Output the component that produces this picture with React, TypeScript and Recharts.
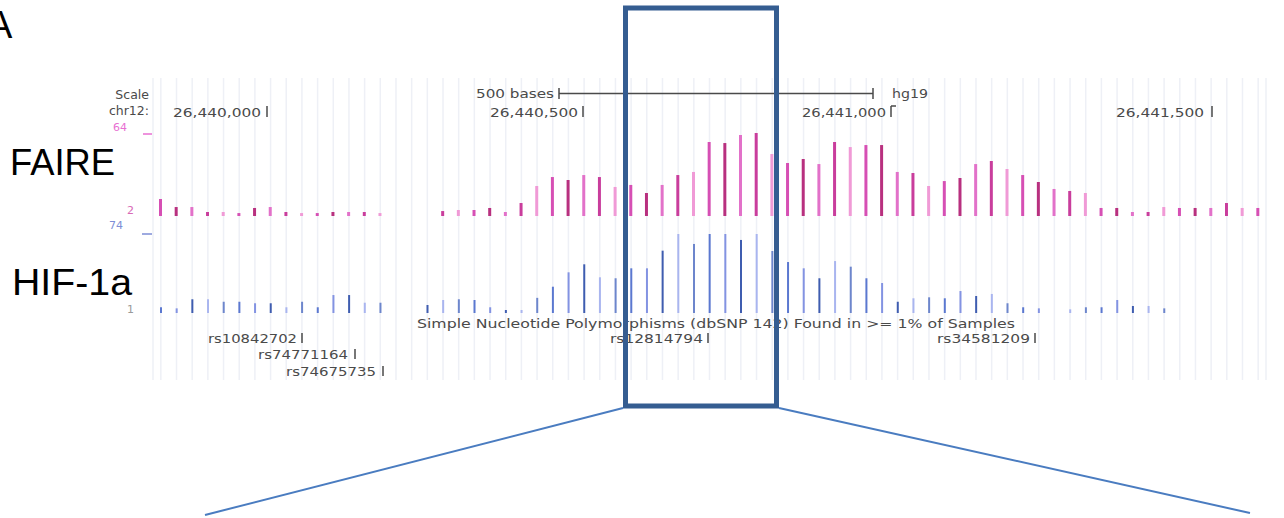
import React from 'react';
import { BarChart, Bar, XAxis, YAxis, CartesianGrid, Cell } from 'recharts';

// genomic bins (chr12, hg19), ~25 bases apart
const bins: number[] = Array.from({ length: 71 }, (_, i) => 26439830 + i * 25);

// FAIRE signal (view limits 2 - 64)
const faire: (number | null)[] = [
  14.7, 8.7, 8.7, 5.0, 5.0, 4.2, 8.0, 8.7, 5.0, 4.2,
  4.2, 5.0, 5.0, 5.0, 4.2, null, null, null, 5.7, 6.5,
  6.5, 8.0, 5.0, 11.7, 24.4, 31.1, 28.9, 32.6, 31.1, 23.7,
  25.2, 19.2, 25.2, 32.6, 34.9, 57.3, 56.5, 62.5, 64.0, 48.3,
  41.6, 44.6, 40.8, 57.3, 53.5, 55.0, 55.0, 34.9, 34.1, 24.4,
  28.1, 30.4, 40.8, 43.1, 37.1, 32.6, 27.4, 22.2, 20.7, 19.2,
  8.0, 8.0, 5.0, 5.0, 8.7, 8.0, 8.0, 8.0, 11.7, 8.0,
  8.0,
];

// HIF-1a signal (view limits 1 - 74)
const hif: (number | null)[] = [
  6.3, 5.3, 13.7, 13.7, 11.4, 11.4, 10.0, 10.0, 6.3, 11.4,
  6.3, 17.6, 17.6, 10.5, 10.5, null, null, 8.4, 13.0, 13.7,
  13.0, 6.3, 3.8, 3.8, 15.0, 25.3, 38.6, 46.0, 34.0, 33.1,
  42.3, 42.3, 58.6, 74.0, 64.8, 74.0, 74.0, 68.5, 74.0, 58.3,
  48.1, 42.3, 33.1, 49.0, 43.8, 33.1, 28.7, 11.4, 14.6, 15.5,
  14.6, 21.3, 16.7, 18.6, 10.0, 6.3, 5.3, null, 4.4, 6.3,
  6.3, 13.0, 7.5, 7.5, 5.3, null, null, null, null, null,
  null,
];

const positionTicks = ['26,440,000', '26,440,500', '26,441,000', '26,441,500'];
const snpLabels = ['rs10842702', 'rs74771164', 'rs74675735', 'rs12814794', 'rs34581209'];

const faireColors = ['#d64fb4', '#b8307f', '#e271c9', '#c93d9c', '#f09ad6'];
const hifColors = ['#5b78d0', '#8393e2', '#3f5db0', '#a9b5ef', '#6d86cc'];

const data = bins.map((pos, i) => ({ pos, faire: faire[i], hif: hif[i] }));

const W = 1284;
const PLOT_LEFT = 153;
const PLOT_RIGHT = 18;
const ucsc = '"DejaVu Sans", Verdana, sans-serif';
const big = '"Liberation Sans", Arial, sans-serif';

const abs = (left: number, top: number): React.CSSProperties => ({ position: 'absolute', left, top });

export default function App() {
  return (
    <div style={{ position: 'absolute', left: 0, top: 0, width: W, height: 518, background: '#fff', overflow: 'hidden' }}>
      {/* browser guideline stripes */}
      <div style={abs(0, 78)}>
        <BarChart width={W} height={302} data={data} margin={{ top: 0, right: PLOT_RIGHT, bottom: 0, left: PLOT_LEFT }}>
          <CartesianGrid horizontal={false} stroke="#eef0f6" strokeWidth={1.5} />
          <XAxis dataKey="pos" hide interval={0} />
          <YAxis hide domain={[0, 1]} />
          <Bar dataKey="none" isAnimationActive={false} />
        </BarChart>
      </div>

      {/* FAIRE track */}
      <div style={abs(0, 120)}>
        <BarChart width={W} height={110} data={data} barSize={3}
          margin={{ top: 13, right: PLOT_RIGHT, bottom: 14, left: PLOT_LEFT }}>
          <XAxis dataKey="pos" hide />
          <YAxis hide domain={[2, 64]} allowDataOverflow />
          <Bar dataKey="faire" isAnimationActive={false}>
            {data.map((_, i) => <Cell key={i} fill={faireColors[i % faireColors.length]} />)}
          </Bar>
        </BarChart>
      </div>

      {/* HIF-1a track */}
      <div style={abs(0, 225)}>
        <BarChart width={W} height={100} data={data} barSize={2}
          margin={{ top: 9, right: PLOT_RIGHT, bottom: 12, left: PLOT_LEFT }}>
          <XAxis dataKey="pos" hide />
          <YAxis hide domain={[1, 74]} allowDataOverflow />
          <Bar dataKey="hif" isAnimationActive={false}>
            {data.map((_, i) => <Cell key={i} fill={hifColors[i % hifColors.length]} />)}
          </Bar>
        </BarChart>
      </div>

      {/* annotations */}
      <svg width={W} height={518} style={{ position: 'absolute', left: 0, top: 0, pointerEvents: 'none' }}>
        <text x={-13} y={38} fontFamily={big} fontSize={38} fill="#000">A</text>
        <text x={10} y={175} fontFamily={big} fontSize={36} fill="#000" textLength={105} lengthAdjust="spacingAndGlyphs">FAIRE</text>
        <text x={12} y={295} fontFamily={big} fontSize={36} fill="#000" textLength={120} lengthAdjust="spacingAndGlyphs">HIF-1a</text>

        <g fontFamily={ucsc} fontSize={12.5} fill="#4a4a4a" lengthAdjust="spacingAndGlyphs">
          <text x={149} y={99} textAnchor="end">Scale</text>
          <text x={149} y={115} textAnchor="end">chr12:</text>
          <text x={476} y={98} textLength={78} lengthAdjust="spacingAndGlyphs">500 bases</text>
          <text x={892} y={98} textLength={36} lengthAdjust="spacingAndGlyphs">hg19</text>
          <text x={173} y={117} textLength={88} lengthAdjust="spacingAndGlyphs">{positionTicks[0]}</text>
          <text x={490} y={117} textLength={88} lengthAdjust="spacingAndGlyphs">{positionTicks[1]}</text>
          <text x={802} y={117} textLength={84} lengthAdjust="spacingAndGlyphs">{positionTicks[2]}</text>
          <text x={1116} y={117} textLength={88} lengthAdjust="spacingAndGlyphs">{positionTicks[3]}</text>
          <text x={417} y={328} textLength={598} lengthAdjust="spacingAndGlyphs">
            Simple Nucleotide Polymorphisms (dbSNP 142) Found in &gt;= 1% of Samples
          </text>
          <text x={208} y={343} textLength={89} lengthAdjust="spacingAndGlyphs">{snpLabels[0]}</text>
          <text x={258} y={359} textLength={90} lengthAdjust="spacingAndGlyphs">{snpLabels[1]}</text>
          <text x={286} y={376} textLength={90} lengthAdjust="spacingAndGlyphs">{snpLabels[2]}</text>
          <text x={610} y={343} textLength={93} lengthAdjust="spacingAndGlyphs">{snpLabels[3]}</text>
          <text x={937} y={343} textLength={93} lengthAdjust="spacingAndGlyphs">{snpLabels[4]}</text>
        </g>
        <g stroke="#4a4a4a" strokeWidth={1.5}>
          <line x1={559} y1={93.5} x2={873} y2={93.5} />
          <line x1={559} y1={88} x2={559} y2={99} />
          <line x1={873} y1={88} x2={873} y2={99} />
          <line x1={267} y1={106} x2={267} y2={117} />
          <line x1={583} y1={106} x2={583} y2={117} />
          <line x1={891} y1={106} x2={891} y2={117} />
          <line x1={891} y1={106} x2={896} y2={106} />
          <line x1={1212} y1={106} x2={1212} y2={117} />
          <line x1={302} y1={333} x2={302} y2={343} />
          <line x1={355} y1={349} x2={355} y2={359} />
          <line x1={383} y1={366} x2={383} y2={376} />
          <line x1={708} y1={333} x2={708} y2={343} />
          <line x1={1035} y1={333} x2={1035} y2={343} />
        </g>

        <g fontFamily={ucsc} fontSize={11}>
          <text x={127} y={131} textAnchor="end" fill="#e86fd2">64</text>
          <text x={134} y={214} textAnchor="end" fill="#d86ab5">2</text>
          <text x={123} y={229} textAnchor="end" fill="#7e8ed6">74</text>
          <text x={134} y={313} textAnchor="end" fill="#9a9a9a">1</text>
        </g>
        <line x1={143} y1={134} x2={152} y2={134} stroke="#e86fd2" strokeWidth={1.5} />
        <line x1={142} y1={234} x2={152} y2={234} stroke="#7e8ed6" strokeWidth={1.5} />

        <rect x={625.5} y={8} width={151} height={398} fill="none" stroke="#355d91" strokeWidth={5} />
        <line x1={623} y1={408} x2={205} y2={515} stroke="#4a7cc0" strokeWidth={2} />
        <line x1={779} y1={408} x2={1250} y2={513} stroke="#4a7cc0" strokeWidth={2} />
      </svg>
    </div>
  );
}
